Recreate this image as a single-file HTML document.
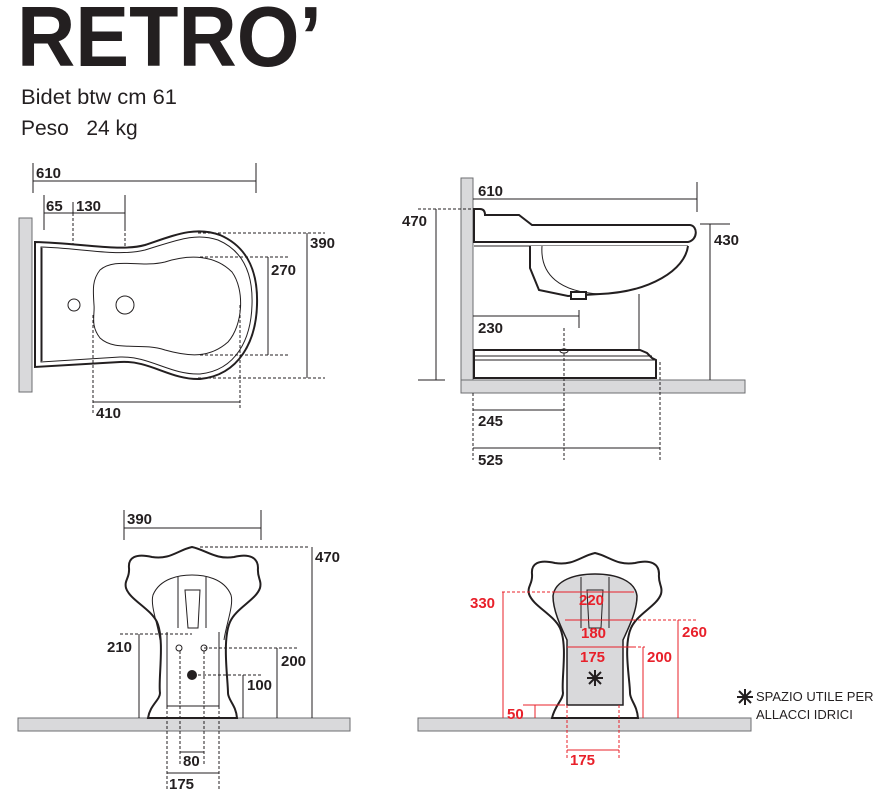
<!DOCTYPE html>
<html><head><meta charset="utf-8"><style>
html,body{margin:0;padding:0;background:#fff;}
svg{display:block;font-family:"Liberation Sans",Arial,sans-serif;}
.n{font-weight:bold;font-size:15px;fill:#231f20;}
.r{font-weight:bold;font-size:15px;fill:#e8202a;}
.l{stroke:#231f20;stroke-width:1;fill:none;}
.d{stroke:#231f20;stroke-width:1;fill:none;stroke-dasharray:3,2;}
.rl{stroke:#e8202a;stroke-width:1;fill:none;}
.rd{stroke:#e8202a;stroke-width:1;fill:none;stroke-dasharray:3,2;}
.s{stroke:#231f20;stroke-width:2;fill:#fff;}
.g{fill:#d9d9db;stroke:#6d6e70;stroke-width:1;}
</style></head><body>
<svg width="885" height="799" viewBox="0 0 885 799" xmlns="http://www.w3.org/2000/svg">
<text x="17" y="66" font-size="85" font-weight="bold" fill="#231f20" textLength="305" lengthAdjust="spacingAndGlyphs">RETRO’</text>
<text x="21" y="104" font-size="21" fill="#231f20" textLength="156" lengthAdjust="spacingAndGlyphs">Bidet btw cm 61</text>
<text x="21" y="135" font-size="21" fill="#231f20" xml:space="preserve">Peso   24 kg</text>

<!-- TOP VIEW -->
<rect x="19" y="218" width="13" height="174" class="g"/>
<path class="l" d="M33 163V193M256 163V193M33 181H256"/>
<text class="n" x="36" y="178">610</text>
<path class="l" d="M44 195V230M125 195V230M73 202V213M44 213H125"/>
<path class="d" d="M73 213V295M125 213V292"/>
<text class="n" x="46" y="211">65</text><text class="n" x="76" y="211">130</text>
<path class="s" d="M35 242C80 243 120 252 145 245C175 235 195 226 220 235C250 248 258 275 257 305C256 340 240 375 200 379C170 380 150 360 120 362L35 367Z"/>
<path class="l" d="M41 247C80 248 118 257 145 250C175 241 195 232 218 240C246 252 253 278 252 305C251 338 237 370 200 374C170 375 150 356 120 357L41 362Z" stroke-width="1.5"/>
<path class="l" stroke-width="3" d="M42 248V361"/>
<path class="l" d="M100 270C115 257 140 268 165 262C190 254 215 255 232 272C245 290 243 325 228 342C210 358 190 357 165 350C140 342 115 352 100 338C90 325 95 315 94 305C93 290 92 280 100 270Z"/>
<circle class="l" cx="74" cy="305" r="6"/><circle class="l" cx="125" cy="305" r="9"/>
<path class="d" d="M200 257H288M200 355H288M198 233H325M198 378H325"/>
<path class="l" d="M268 257V355M307 233V378"/>
<text class="n" x="271" y="275">270</text><text class="n" x="310" y="248">390</text>
<path class="d" d="M93 315V415M240 305V410"/>
<path class="l" d="M93 402H240"/>
<text class="n" x="96" y="418">410</text>

<!-- SIDE VIEW -->
<rect x="461" y="178" width="12" height="202" class="g"/>
<rect x="461" y="380" width="284" height="13" class="g"/>
<path class="l" d="M473 199H697M697 182V212"/>
<text class="n" x="478" y="196">610</text>
<path class="d" d="M418 209H473"/>
<path class="l" d="M436 209V380M418 380H445"/>
<text class="n" x="402" y="226">470</text>
<path class="l" d="M700 224H730M710 224V380"/>
<text class="n" x="714" y="245">430</text>
<path class="s" stroke-width="1.5" d="M474 209H480C484 209 485 212 485 215H519L532 225H690C698 226 698 240 688 242H474Z"/>
<path class="l" d="M474 246H688"/>
<path class="s" stroke-width="1.5" d="M530 246L530 268L539 290L568 296L600 294C650 292 685 270 688 246"/>
<path class="l" d="M542 246C540 275 560 292 600 294"/>
<rect x="571" y="292" width="15" height="7" class="s" stroke-width="1"/>
<path class="l" stroke-width="1.5" d="M639 294V350"/>
<path class="s" stroke-width="1.5" d="M474 350H640L647 353L652 358L656 360V378H474Z"/>
<path class="l" d="M474 356H652M474 360H655"/>
<path class="l" d="M473 316H579M579 310V328"/>
<text class="n" x="478" y="333">230</text>
<ellipse cx="564" cy="351" rx="4" ry="2" class="l"/>
<path class="d" d="M564 328V460M473 393V460M660 362V460"/>
<path class="l" d="M473 410H564M473 448H660"/>
<text class="n" x="478" y="426">245</text><text class="n" x="478" y="465">525</text>

<!-- FRONT LEFT -->
<rect x="18" y="718" width="332" height="13" class="g"/>
<path class="l" d="M124 510V540M261 510V540M124 528H261"/>
<text class="n" x="127" y="524">390</text>
<path class="d" d="M200 547H310"/>
<path class="l" d="M312 547V718"/>
<text class="n" x="315" y="562">470</text>
<path class="s" d="M192 547C178 550 170 560 152 557C135 553 128 558 129 568C130 578 124 580 126 588C130 600 150 608 157 622C165 640 158 680 160 693C160 700 150 705 148 718H237C236 705 228 700 228 693C228 680 222 640 230 622C236 608 256 600 260 588C262 580 257 578 258 568C258 558 250 553 234 557C216 560 206 550 192 547Z" stroke-width="1.8"/>
<path class="l" stroke-width="1.5" d="M160 640C158 625 150 605 153 595C160 578 180 575 192 575C204 575 224 578 231 595C234 605 226 625 224 640"/>
<path class="l" stroke-width="1.5" d="M167 632V706H219V632"/>
<path class="l" d="M178 577V628M206 577V628M185 590H200L198 628H188Z"/>
<path class="d" d="M120 634H192M204 648H298M193 675H263"/>
<path class="l" d="M139 634V718M277 648V718M243 675V718"/>
<text class="n" x="107" y="652">210</text><text class="n" x="281" y="666">200</text><text class="n" x="247" y="690">100</text>
<circle class="l" cx="179" cy="648" r="3"/><circle class="l" cx="204" cy="648" r="3"/>
<circle cx="192" cy="675" r="5" fill="#231f20"/>
<path class="d" d="M167 706V790M219 706V790M180 651V765M204 651V765"/>
<path class="l" d="M180 752H204M167 773H219"/>
<text class="n" x="183" y="766">80</text><text class="n" x="169" y="789">175</text>

<!-- FRONT RIGHT -->
<rect x="418" y="718" width="333" height="13" class="g"/>
<path class="s" d="M595 553C581 556 573 566 555 563C538 559 531 564 532 574C533 584 527 586 529 594C533 606 553 614 560 628C568 646 561 680 563 693C563 700 555 705 552 718H638C637 705 630 700 630 693C630 680 623 646 631 628C637 614 657 606 661 594C663 586 658 584 659 574C659 564 651 559 635 563C617 566 609 556 595 553Z" stroke-width="1.8"/>
<path d="M567 705V640C560 625 553 610 553 596C555 580 575 574 595 574C615 574 635 580 637 596C637 610 630 625 623 640V705Z" fill="#d9d9db" stroke="#231f20" stroke-width="1.5"/>
<path class="l" d="M581 577V628M609 577V628M587 590H603L601 628H589Z"/>
<path class="rd" d="M502 592H553M633 620H698M633 647H645"/>
<path class="rl" d="M553 592H634M503 592V718M565 620H633M678 620V718M567 647H633M643 647V718M523 705H565M535 705V718"/>
<text class="r" x="470" y="608">330</text><text class="r" x="579" y="605">220</text>
<text class="r" x="682" y="637">260</text><text class="r" x="581" y="638">180</text>
<text class="r" x="647" y="662">200</text><text class="r" x="580" y="662">175</text>
<text class="r" x="507" y="719">50</text>
<path class="rd" d="M567 705V760M619 705V760"/>
<path class="rl" d="M567 750H619"/>
<text class="r" x="570" y="765">175</text>
<path stroke="#231f20" stroke-width="2" d="M595 670V686M587 678H603M589 672L601 684M601 672L589 684"/>
<path stroke="#231f20" stroke-width="2" d="M745 689V705M737 697H753M739 691L751 703M751 691L739 703"/>
<text x="756" y="701" font-size="13" fill="#231f20">SPAZIO UTILE PER</text>
<text x="756" y="719" font-size="13" fill="#231f20">ALLACCI IDRICI</text>
</svg>
</body></html>
